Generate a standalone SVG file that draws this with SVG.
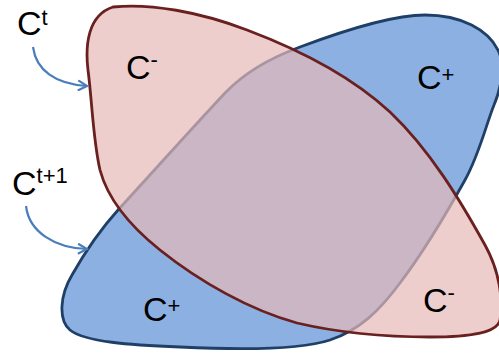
<svg xmlns="http://www.w3.org/2000/svg" width="499" height="353" viewBox="0 0 499 353">
<defs>
<style>
.lbl{font-family:"Liberation Sans",Arial,sans-serif;font-size:34px;fill:#000}
.sup{font-size:22px}
.arr{fill:none;stroke:#4A7EBB;stroke-width:2.2}
</style>
<marker id="ah" viewBox="0 0 12 12" refX="10" refY="6" markerWidth="12" markerHeight="12" markerUnits="userSpaceOnUse" orient="auto">
<path d="M1,1 L10,6 L1,11" fill="none" stroke="#4A7EBB" stroke-width="2.2"/>
</marker>
</defs>
<rect width="499" height="353" fill="#fff"/>
<g id="blue-set">
<path d="M118,210 C150,175 195,125 225,93 C245,72 270,58 300,47 C340,32 390,15 425,15 C462,15 488,30 498,50 C505,64 502,86 494,105 C486,125 479,155 465,180 C450,207 425,250 400,283 C380,310 360,330 330,340 C300,350 240,350 180,347 C130,345 85,342 70,330 C58,320 60,295 72,275 C85,252 100,230 118,210 Z" fill="#8BB0E1" stroke="#1F3F66" stroke-width="2.8"/>
</g>
<g id="pink-set">
<path d="M113,7 C150,3 200,12 247,30 C300,50 350,75 390,112 C430,150 460,200 485,245 C500,272 503,300 500,320 C497,333 470,337 430,337 C390,337 340,333 297,323 C250,310 200,282 160,250 C130,226 108,200 100,170 C93,140 92,100 88,70 C85,45 88,15 113,7 Z" fill="#E6B9B8" fill-opacity="0.7" stroke="#6B2020" stroke-width="2.8"/>
</g>
<g id="connectors">
<path class="arr" d="M33,47 C36,70 55,84 87,86" marker-end="url(#ah)"/>
<path class="arr" d="M26,206 C29,232 55,248 87,249" marker-end="url(#ah)"/>
</g>
<g id="label-ct"><text class="lbl" x="17" y="35">C<tspan class="sup" dy="-10">t</tspan></text></g>
<g id="label-ct1"><text class="lbl" x="12" y="195">C<tspan class="sup" dy="-12">t+1</tspan></text></g>
<g id="label-cminus-1"><text class="lbl" x="126" y="79">C<tspan class="sup" dy="-12">-</tspan></text></g>
<g id="label-cplus-1"><text class="lbl" x="417" y="89">C<tspan class="sup" dy="-7">+</tspan></text></g>
<g id="label-cplus-2"><text class="lbl" x="143" y="321">C<tspan class="sup" dy="-8">+</tspan></text></g>
<g id="label-cminus-2"><text class="lbl" x="423" y="312">C<tspan class="sup" dy="-12">-</tspan></text></g>
</svg>
